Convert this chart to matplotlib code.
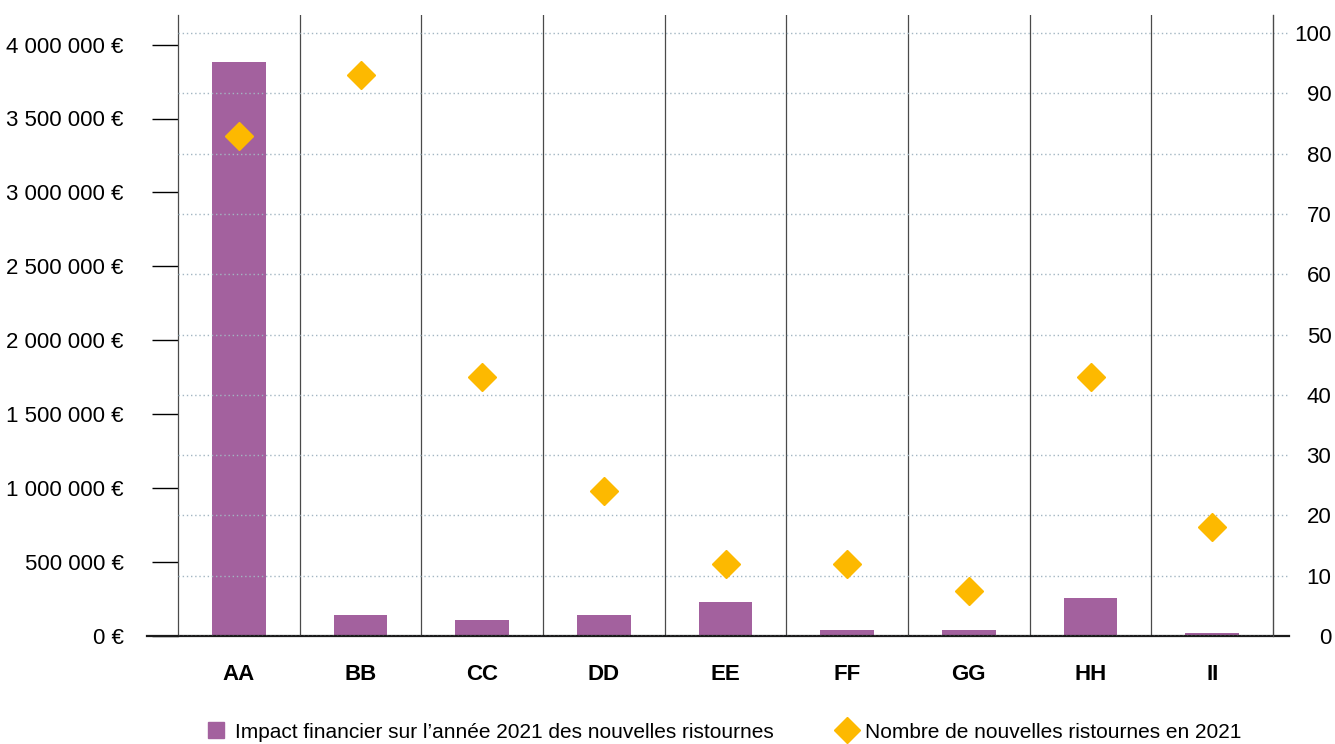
import matplotlib

matplotlib.use("Agg")

import matplotlib.pyplot as plt
import numpy as np
from matplotlib.lines import Line2D
from matplotlib.ticker import FuncFormatter, MultipleLocator

categories = ["AA", "BB", "CC", "DD", "EE", "FF", "GG", "HH", "II"]
impact_eur = [3880000, 145000, 105000, 145000, 230000, 43000, 43000, 258000, 20000]
nb_ristournes = [83, 93, 43, 24, 12, 12, 7.5, 43, 18]

bar_label = "Impact financier sur l\u2019ann\u00e9e 2021 des nouvelles ristournes"
dot_label = "Nombre de nouvelles ristournes en 2021"

PURPLE = "#A3619E"
GOLD = "#FDB900"
GRID = "#A3B6C2"
SEP = "#4a4a4a"

plt.rcParams["font.family"] = ["Liberation Sans", "DejaVu Sans"]
plt.rcParams["font.size"] = 16

DPI = 100
fig = plt.figure(figsize=(13.35, 7.44), dpi=DPI)
ax = fig.add_axes([178 / 1335, 1 - 636 / 744, (1273 - 178) / 1335, (636 - 15) / 744])
ax2 = ax.twinx()

x = np.arange(len(categories))
ax.bar(x, impact_eur, width=0.44, color=PURPLE, zorder=2)
ax.set_xlim(-0.5, len(categories) - 0.5)
ax.set_ylim(0, 4200000)
ax.yaxis.set_major_locator(MultipleLocator(500000))


def eur(v, _pos):
    return "{:,.0f} \u20ac".format(v).replace(",", " ")


ax.yaxis.set_major_formatter(FuncFormatter(eur))
ax.tick_params(axis="y", length=19, width=1, pad=20, color="black", labelsize=16)
ax.set_xticks(x)
ax.set_xticklabels(categories, fontweight="bold")
ax.tick_params(axis="x", length=0, pad=20, labelsize=16)

# category separators
for b in np.arange(0.5, len(categories) - 0.5, 1.0):
    ax.axvline(b, color=SEP, lw=0.9, zorder=1)

ax.spines["top"].set_visible(False)
ax.spines["left"].set_color(SEP)
ax.spines["left"].set_linewidth(0.9)
ax.spines["bottom"].set_visible(False)
for s in ax2.spines.values():
    s.set_visible(False)
ax2.spines["right"].set_visible(True)
ax2.spines["right"].set_color(SEP)
ax2.spines["right"].set_linewidth(0.9)

# right axis counts
ax2.set_ylim(0, 103)
ax2.yaxis.set_major_locator(MultipleLocator(10))
ax2.tick_params(axis="y", length=0, pad=42, labelsize=16)
for lab in ax2.get_yticklabels():
    lab.set_horizontalalignment("right")
ax2.grid(axis="y", color=GRID, lw=1, linestyle=(0, (1, 2)), zorder=0)
ax2.set_axisbelow(True)
for t in np.arange(10, 101, 10):
    ax2.plot([1.0, 1.015], [t, t], transform=ax2.get_yaxis_transform(), color=GRID,
             lw=1, linestyle=(0, (1, 2)), clip_on=False)

ax2.plot(x, nb_ristournes, linestyle="none", marker="D", markersize=14,
         markerfacecolor=GOLD, markeredgecolor=GOLD, zorder=5)

# baseline extending past both sides
ax.plot([-0.028, 1.015], [0, 0], transform=ax.get_yaxis_transform(), color="#1a1a1a",
        lw=1.6, clip_on=False, zorder=6)

ax.set_zorder(ax2.get_zorder() - 1)
ax.patch.set_visible(False)

handles = [
    Line2D([], [], linestyle="none", marker="s", markersize=11, color=PURPLE),
    Line2D([], [], linestyle="none", marker="D", markersize=13, color=GOLD),
]
fig.legend(handles, [bar_label, dot_label], loc="center", bbox_to_anchor=(0.543, 0.016),
           ncol=2, frameon=False, fontsize=15, handlelength=0.8, handletextpad=0.5,
           columnspacing=3.1)

fig.savefig("out.png", dpi=DPI)
